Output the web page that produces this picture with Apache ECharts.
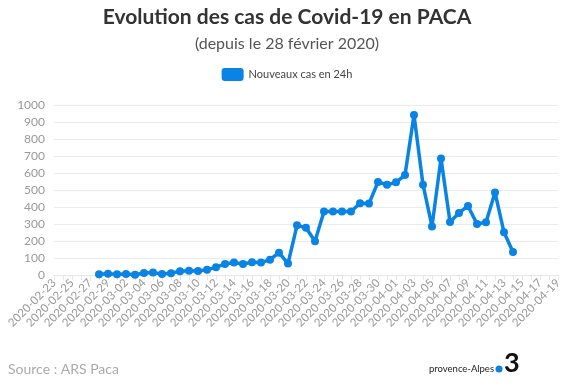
<!DOCTYPE html>
<html><head><meta charset="utf-8">
<script src="https://cdn.jsdelivr.net/npm/echarts@6/dist/echarts.min.js"></script>
<style>html,body{margin:0;padding:0;background:#fff}#c{width:574px;height:387px}</style>
</head><body><div id="c"></div>
<script>
const dates = ["2020-02-23","2020-02-24","2020-02-25","2020-02-26","2020-02-27","2020-02-28","2020-02-29",
"2020-03-01","2020-03-02","2020-03-03","2020-03-04","2020-03-05","2020-03-06","2020-03-07","2020-03-08","2020-03-09","2020-03-10",
"2020-03-11","2020-03-12","2020-03-13","2020-03-14","2020-03-15","2020-03-16","2020-03-17","2020-03-18","2020-03-19","2020-03-20",
"2020-03-21","2020-03-22","2020-03-23","2020-03-24","2020-03-25","2020-03-26","2020-03-27","2020-03-28","2020-03-29","2020-03-30",
"2020-03-31","2020-04-01","2020-04-02","2020-04-03","2020-04-04","2020-04-05","2020-04-06","2020-04-07","2020-04-08","2020-04-09",
"2020-04-10","2020-04-11","2020-04-12","2020-04-13","2020-04-14","2020-04-15","2020-04-16","2020-04-17","2020-04-18","2020-04-19"];
const nouveauxCas = [null,null,null,null,null,4,8,
4,6,2,12,14,6,10,22,25,24,
31,45,65,73,65,75,73,90,131,67,
292,278,198,373,373,373,373,422,420,547,
531,545,588,941,531,286,686,312,365,406,
300,310,486,251,135,null,null,null,null,null];
const yTicks = {min:0, max:1000, interval:100};
const seriesName = "Nouveaux cas en 24h";
const blue = "#0a84e4";
const chart = echarts.init(document.getElementById('c'));
chart.setOption({
  animation:false,
  title:[{text:"Evolution des cas de Covid-19 en PACA", left:'center', top:2,
    textStyle:{fontFamily:'Lato', fontWeight:'bold', fontSize:21, color:'#333'}},
    {text:"(depuis le 28 février 2020)", left:'center', top:31,
    textStyle:{fontFamily:'Lato', fontWeight:'normal', fontSize:16, color:'#555'}}],
  legend:{top:63, left:'center', itemWidth:22, itemHeight:13, icon:'roundRect',
    textStyle:{fontFamily:'Lato', fontSize:11, color:'#444'}, data:[seriesName]},
  grid:{left:54, right:16, top:105, bottom:112, containLabel:false},
  xAxis:{type:'category', data:dates, boundaryGap:false,
    axisLine:{lineStyle:{color:'#e6e6e6'}},
    axisTick:{interval:0, lineStyle:{color:'#e6e6e6'}, length:5},
    axisLabel:{interval:1, rotate:45, color:'#999', fontFamily:'Lato', fontSize:11.5, margin:6}},
  yAxis:{type:'value', min:yTicks.min, max:yTicks.max, interval:yTicks.interval,
    axisLine:{show:false}, axisTick:{show:false},
    splitLine:{lineStyle:{color:'#ebebeb'}},
    axisLabel:{color:'#999', fontFamily:'Lato', fontSize:12, margin:9, formatter:v=>String(v)}},
  series:[{name:seriesName, type:'line', data:nouveauxCas, connectNulls:false,
    showAllSymbol:true, symbol:'circle', symbolSize:8, itemStyle:{color:blue},
    lineStyle:{width:3.5, color:blue}}],
  graphic:[
    {type:'text', left:8, top:362, style:{text:"Source : ARS Paca", fill:'#aaa', font:'14px Lato'}},
    {type:'text', x:494, y:369, style:{text:"provence-Alpes", fill:'#222', font:'9.5px Lato', textAlign:'right', textVerticalAlign:'middle'}},
    {type:'circle', shape:{cx:499, cy:369, r:3.5}, style:{fill:blue}},
    {type:'text', left:504, top:350, style:{text:"3", fill:'#111', font:'bold 27px Lato'}}
  ]
});
</script></body></html>
